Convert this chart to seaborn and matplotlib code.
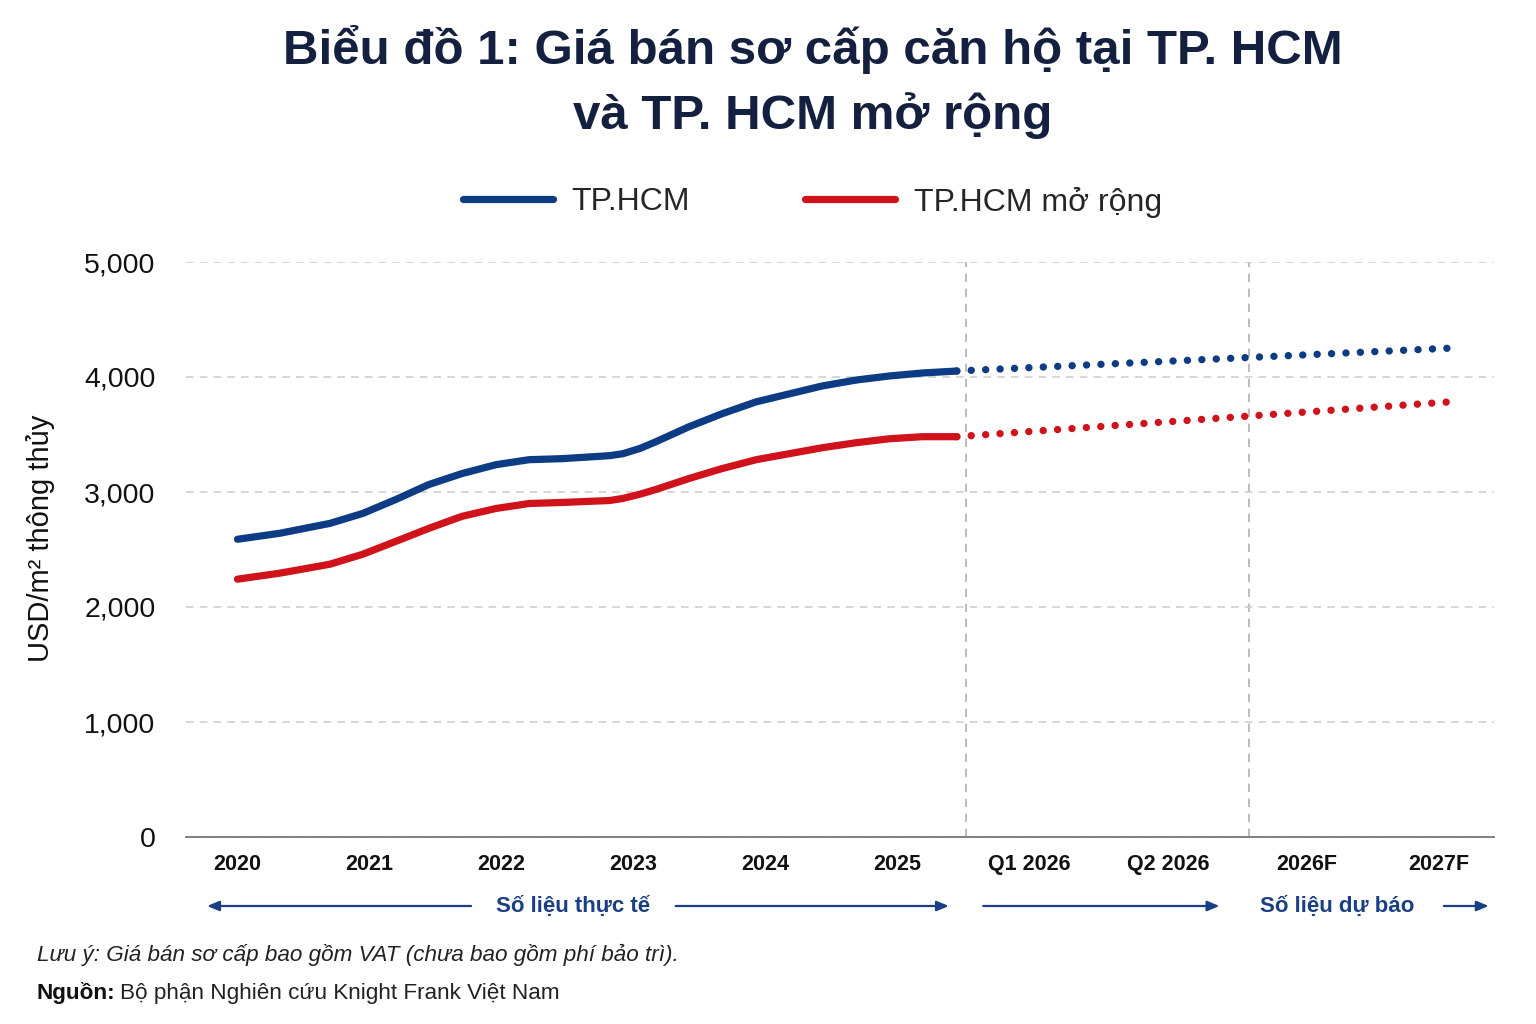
import numpy as np
import pandas as pd
import matplotlib
matplotlib.use('Agg')
import matplotlib.pyplot as plt
from matplotlib.lines import Line2D
import seaborn as sns

sns.set_theme(style='white')
plt.rcParams['font.family'] = ['Liberation Sans', 'DejaVu Sans']

# --- data ---
period_labels = ['2020', '2021', '2022', '2023', '2024', '2025',
                 'Q1 2026', 'Q2 2026', '2026F', '2027F']
period_pos = [0, 1, 2, 3, 4, 5, 6, 7.05, 8.1, 9.1]

# actual data (solid), x in period units
hcm_x = [0, 0.32, 0.7, 0.95, 1.2, 1.45, 1.7, 1.96, 2.21, 2.46, 2.82,
         2.92, 3.05, 3.17, 3.42, 3.67, 3.93, 4.18, 4.43, 4.69, 4.94, 5.19, 5.45]
hcm_y = [2589, 2641, 2727, 2814, 2935, 3065, 3160, 3238, 3281, 3290, 3316,
         3333, 3379, 3437, 3567, 3680, 3784, 3853, 3922, 3974, 4009, 4035, 4052]
mr_y = [2242, 2294, 2372, 2459, 2571, 2684, 2788, 2857, 2900, 2909, 2926,
        2944, 2981, 3022, 3117, 3203, 3281, 3333, 3385, 3429, 3463, 3481, 3481]

# forecast (dotted)
fc_x = [5.45, 9.19]
hcm_fc = [4052, 4251]
mr_fc = [3481, 3784]

split_lines = [5.52, 7.66]

blue = '#0d3b84'
red = '#d0121b'
navy = '#14203f'
arrow_col = '#1b3f85'

fig = plt.figure(figsize=(15.36, 10.24), dpi=100)
ax = fig.add_axes([186/1536, 1-837/1024, 1308/1536, 575/1024])

sns.lineplot(x=hcm_x, y=hcm_y, ax=ax, color=blue, linewidth=5.2,
             solid_capstyle='round', solid_joinstyle='round', legend=False, sort=False)
sns.lineplot(x=hcm_x, y=mr_y, ax=ax, color=red, linewidth=5.2,
             solid_capstyle='round', solid_joinstyle='round', legend=False, sort=False)
dots = (0, (0.01, 1.95))
sns.lineplot(x=fc_x, y=hcm_fc, ax=ax, color=blue, linewidth=5.3,
             linestyle=dots, dash_capstyle='round', legend=False)
sns.lineplot(x=fc_x, y=mr_fc, ax=ax, color=red, linewidth=5.3,
             linestyle=dots, dash_capstyle='round', legend=False)

for xv in split_lines:
    ax.axvline(xv, color='#b0b0b0', linestyle=(0, (5, 4)), linewidth=1.2, zorder=0)

ax.set_xlim(-0.39, 9.52)
ax.set_ylim(0, 5000)
ax.set_yticks([0, 1000, 2000, 3000, 4000, 5000])
ax.set_yticklabels(['0', '1,000', '2,000', '3,000', '4,000', '5,000'])
ax.set_xticks(period_pos)
ax.set_xticklabels(period_labels, fontweight='bold')
ax.tick_params(axis='y', length=0, pad=22, labelsize=20.5, labelcolor='#111111')
ax.tick_params(axis='x', length=0, pad=12, labelsize=15.5, labelcolor='#111111')
ax.grid(axis='y', color='#cccccc', linestyle=(0, (5, 4)), linewidth=1.1)
ax.grid(axis='x', visible=False)
for s in ['top', 'right', 'left']:
    ax.spines[s].set_visible(False)
ax.spines['bottom'].set_color('#777777')
ax.spines['bottom'].set_linewidth(1.3)

ax.set_ylabel('USD/m² thông thủy', fontsize=21, color='#111111')
ax.yaxis.set_label_coords(-0.100, 0.52)

# arrows under the axis
ytr = ax.get_xaxis_transform()
ay = -0.12
arr = dict(arrowstyle='-|>,head_length=0.6,head_width=0.25', color=arrow_col, lw=1.6,
           shrinkA=0, shrinkB=0)
ax.annotate('', xy=(-0.23, ay), xytext=(1.77, ay), xycoords=ytr, textcoords=ytr,
            arrowprops=arr, annotation_clip=False)
ax.annotate('', xy=(5.39, ay), xytext=(3.32, ay), xycoords=ytr, textcoords=ytr,
            arrowprops=arr, annotation_clip=False)
ax.annotate('', xy=(7.44, ay), xytext=(5.65, ay), xycoords=ytr, textcoords=ytr,
            arrowprops=arr, annotation_clip=False)
ax.annotate('', xy=(9.48, ay), xytext=(9.14, ay), xycoords=ytr, textcoords=ytr,
            arrowprops=arr, annotation_clip=False)
ax.text(2.54, ay, 'Số liệu thực tế', transform=ytr, ha='center', va='center',
        fontsize=16, fontweight='bold', color=arrow_col)
ax.text(8.33, ay, 'Số liệu dự báo', transform=ytr, ha='center', va='center',
        fontsize=16, fontweight='bold', color=arrow_col)

# title
fig.text(0.529, 1-82/1024, 'Biểu đồ 1: Giá bán sơ cấp căn hộ tại TP. HCM\nvà TP. HCM mở rộng',
         ha='center', va='center', fontsize=35.5, fontweight='bold', color=navy,
         linespacing=1.5)

# legend
handles = [Line2D([], [], color=blue, lw=5.2, solid_capstyle='round'),
           Line2D([], [], color=red, lw=5.2, solid_capstyle='round')]
fig.legend(handles, ['TP.HCM', 'TP.HCM mở rộng'], loc='center',
           bbox_to_anchor=(0.529, 1-202/1024), ncol=2, frameon=False,
           fontsize=23, handlelength=2.8, handletextpad=0.6, columnspacing=3.6)

# footer
fig.text(37/1536, 1-955/1024, 'Lưu ý: Giá bán sơ cấp bao gồm VAT (chưa bao gồm phí bảo trì).',
         fontsize=16.2, fontstyle='italic', color='#222222', va='center')
t1 = fig.text(37/1536, 1-993/1024, 'Nguồn:', fontsize=16.2, fontweight='bold',
              color='#111111', va='center')
r = fig.canvas.get_renderer()
bb = t1.get_window_extent(renderer=r)
fig.text(bb.x1/1536 + 4/1536, 1-993/1024, 'Bộ phận Nghiên cứu Knight Frank Việt Nam',
         fontsize=16.2, color='#222222', va='center')

fig.savefig('out.png', dpi=100, facecolor='white')
